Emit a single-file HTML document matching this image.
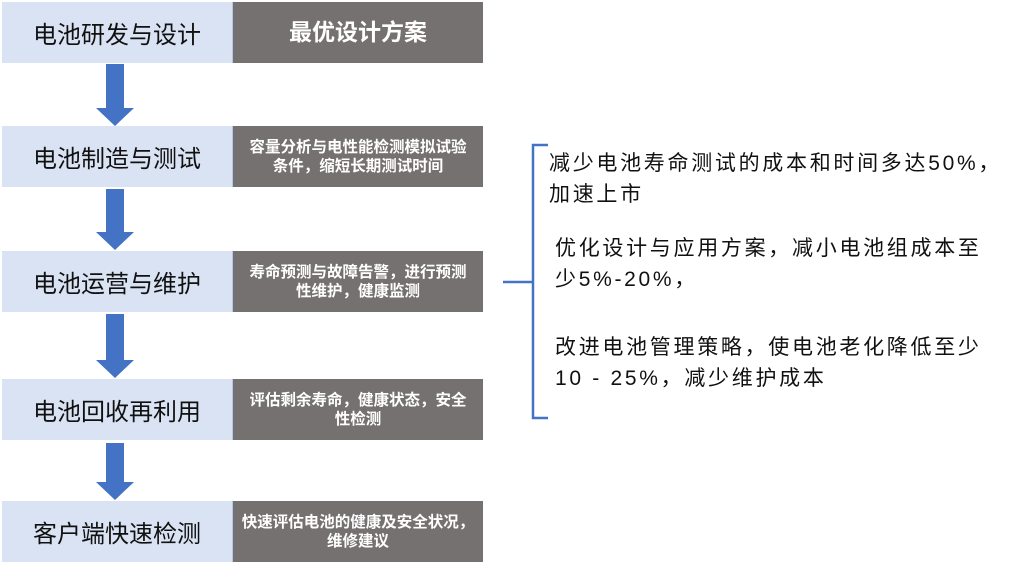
<!DOCTYPE html>
<html><head><meta charset="utf-8"><style>
body{margin:0;width:1030px;height:570px;background:#fff;position:relative;overflow:hidden;font-family:"Liberation Sans","Noto Sans CJK SC",sans-serif}
.l{position:absolute;left:2px;width:230px;height:61px;background:#dae3f3;border-right:1px solid #b4c7e7;display:flex;align-items:center;justify-content:center;font-size:24px;color:#111}
.r{position:absolute;left:233px;width:250px;height:61px;background:#767171;display:flex;align-items:center;justify-content:center;text-align:center;color:#fff;font-weight:bold;font-size:15.5px;line-height:19px}
.t{position:absolute;font-size:21px;color:#111;line-height:31px;white-space:nowrap;letter-spacing:2.7px}
</style></head><body>
<div class="l" style="top:2px">电池研发与设计</div><div class="r" style="top:2px;font-size:23px">最优设计方案</div>
<div class="l" style="top:126px">电池制造与测试</div><div class="r" style="top:126px">容量分析与电性能检测模拟试验<br>条件，缩短长期测试时间</div>
<div class="l" style="top:251px">电池运营与维护</div><div class="r" style="top:251px">寿命预测与故障告警，进行预测<br>性维护，健康监测</div>
<div class="l" style="top:379px">电池回收再利用</div><div class="r" style="top:379px">评估剩余寿命，健康状态，安全<br>性检测</div>
<div class="l" style="top:501px">客户端快速检测</div><div class="r" style="top:501px">快速评估电池的健康及安全状况，<br>维修建议</div>
<svg width="1030" height="570" style="position:absolute;left:0;top:0">
<g fill="#4472c4">
<polygon points="106,64 124,64 124,108 134,108 115,126 96,108 106,108"/>
<polygon points="106,189 124,189 124,232 134,232 115,250 96,232 106,232"/>
<polygon points="106,314 124,314 124,360 134,360 115,378 96,360 106,360"/>
<polygon points="106,443 124,443 124,482 134,482 115,500 96,482 106,482"/>
</g>
<path d="M548,145 H533 V418 H548 M503,282 H533" fill="none" stroke="#4472c4" stroke-width="2.5"/>
</svg>
<div class="t" style="left:549px;top:148px">减少电池寿命测试的成本和时间多达50%，<br>加速上市</div>
<div class="t" style="left:555px;top:233px">优化设计与应用方案，减小电池组成本至<br>少5%-20%，</div>
<div class="t" style="left:555px;top:332px">改进电池管理策略，使电池老化降低至少<br>10 - 25%，减少维护成本</div>
</body></html>
